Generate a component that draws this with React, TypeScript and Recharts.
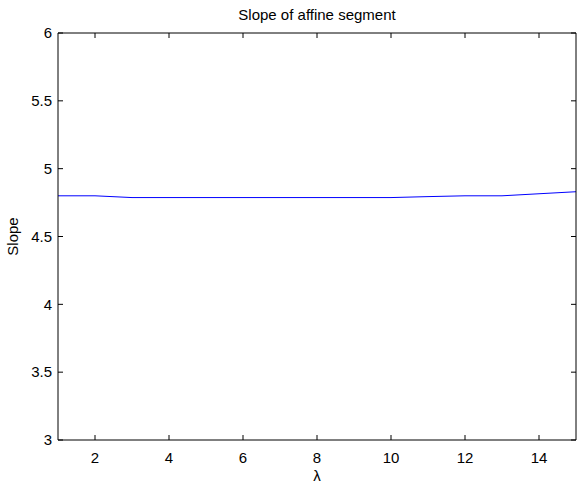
import React from "react";
import { LineChart, Line, XAxis, YAxis } from "recharts";

const FONT = "'Liberation Sans', Arial, Helvetica, sans-serif";
const FS = 15;

// lambda values on the x axis
const lambdas = [1, 2, 3, 4, 5, 6, 7, 8, 9, 10, 11, 12, 13, 14, 15];
// slope of the affine segment
const slopes = [
  4.8, 4.8, 4.787, 4.787, 4.787, 4.787, 4.787, 4.787, 4.787, 4.787, 4.794,
  4.8, 4.8, 4.815, 4.83,
];

const xTicks = [2, 4, 6, 8, 10, 12, 14];
const yTicks = [3, 3.5, 4, 4.5, 5, 5.5, 6];

const data = lambdas.map((l, i) => ({ lambda: l, slope: slopes[i] }));

const TICK_LEN = 5;
const X_GAP = 12;
const Y_GAP = 6;

// matlab style: tick marks point into the plot box
const BottomTick = (props: any) => {
  const { x, y, payload } = props;
  const axisY = y - X_GAP;
  return (
    <g>
      <line x1={x} x2={x} y1={axisY} y2={axisY - TICK_LEN} stroke="#000" />
      <text
        x={x}
        y={y}
        dy="0.71em"
        textAnchor="middle"
        fill="#000"
        fontSize={FS}
        fontFamily={FONT}
      >
        {payload.value}
      </text>
    </g>
  );
};

const LeftTick = (props: any) => {
  const { x, y, payload } = props;
  const axisX = x + Y_GAP;
  return (
    <g>
      <line x1={axisX} x2={axisX + TICK_LEN} y1={y} y2={y} stroke="#000" />
      <text
        x={x}
        y={y}
        dy="0.355em"
        textAnchor="end"
        fill="#000"
        fontSize={FS}
        fontFamily={FONT}
      >
        {payload.value}
      </text>
    </g>
  );
};

const TopTick = (props: any) => {
  const { x, y } = props;
  return <line x1={x} x2={x} y1={y} y2={y + TICK_LEN} stroke="#000" />;
};

const RightTick = (props: any) => {
  const { x, y } = props;
  return <line x1={x} x2={x - TICK_LEN} y1={y} y2={y} stroke="#000" />;
};

const renderYLabel = (props: any) => {
  const vb = props.viewBox || { x: 0, y: 33, height: 407 };
  const x = vb.x + 18;
  const y = vb.y + vb.height / 2;
  return (
    <text
      x={x}
      y={y}
      transform={`rotate(-90 ${x} ${y})`}
      textAnchor="middle"
      fill="#000"
      fontSize={FS}
      fontFamily={FONT}
    >
      Slope
    </text>
  );
};

export default function App() {
  return (
    <div
      style={{
        position: "absolute",
        left: 0,
        top: 0,
        width: 577,
        height: 485,
        background: "#fff",
      }}
    >
      <LineChart
        width={577}
        height={485}
        data={data}
        margin={{ top: 32, right: 0, bottom: 0, left: 0 }}
      >
        <XAxis
          xAxisId="b"
          dataKey="lambda"
          type="number"
          domain={[1, 15]}
          ticks={xTicks}
          interval={0}
          height={45}
          tickSize={0}
          tickMargin={X_GAP}
          tickLine={false}
          stroke="#000"
          tick={<BottomTick />}
          allowDataOverflow
          label={{
            value: "λ",
            position: "insideBottom",
            offset: 4,
            fill: "#000",
            fontSize: FS,
            fontFamily: FONT,
          }}
        />
        <XAxis
          xAxisId="t"
          orientation="top"
          dataKey="lambda"
          type="number"
          domain={[1, 15]}
          ticks={xTicks}
          interval={0}
          height={1}
          tickSize={0}
          tickMargin={0}
          tickLine={false}
          tick={<TopTick />}
          stroke="#000"
          allowDataOverflow
          label={{
            value: "Slope of affine segment",
            position: "top",
            offset: 12,
            fill: "#000",
            fontSize: FS,
            fontFamily: FONT,
          }}
        />
        <YAxis
          yAxisId="l"
          type="number"
          domain={[3, 6]}
          ticks={yTicks}
          interval={0}
          width={58}
          tickSize={0}
          tickMargin={Y_GAP}
          tickLine={false}
          stroke="#000"
          tick={<LeftTick />}
          allowDataOverflow
          label={{ content: renderYLabel }}
        />
        <YAxis
          yAxisId="r"
          orientation="right"
          type="number"
          domain={[3, 6]}
          ticks={yTicks}
          interval={0}
          width={1}
          tickSize={0}
          tickMargin={0}
          tickLine={false}
          tick={<RightTick />}
          stroke="#000"
          allowDataOverflow
        />
        <Line
          xAxisId="b"
          yAxisId="l"
          dataKey="slope"
          type="linear"
          stroke="#0000ff"
          strokeWidth={1}
          dot={false}
          isAnimationActive={false}
        />
      </LineChart>
    </div>
  );
}
